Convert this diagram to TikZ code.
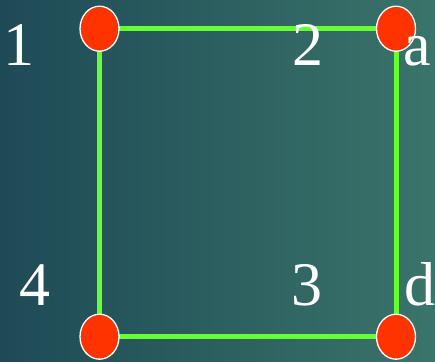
\documentclass[tikz,border=0pt]{standalone}
\usepackage{fontspec}
\setmainfont{Liberation Serif}
\usetikzlibrary{shapes.geometric}
\definecolor{bgleft}{RGB}{30,74,86}
\definecolor{bgright}{RGB}{58,116,106}
\definecolor{edgegreen}{RGB}{102,255,51}
\definecolor{vertred}{RGB}{255,51,0}
\begin{document}
\begin{tikzpicture}[x=1pt,y=-1pt,
  vert/.style={ellipse,draw=white,line width=1.3pt,fill=vertred,minimum width=39pt,minimum height=45pt,inner sep=0pt},
  edge/.style={draw=edgegreen,line width=5pt},
  lab/.style={text=white,font=\fontsize{62}{62}\selectfont,inner sep=0pt}]
\useasboundingbox (0,0) rectangle (435,361);
\shade[shading angle=70,left color=bgleft,right color=bgright] (0,0) rectangle (435,361);
\coordinate (c1) at (99.5,28.7);
\coordinate (c2) at (396,28.7);
\coordinate (c3) at (396,336.7);
\coordinate (c4) at (99.5,336.7);
\draw[edge] (c1) -- (c2) -- (c3) -- (c4) -- cycle;
\node[vert] (n1) at (c1) {};
\node[vert] (n2) at (c2) {};
\node[vert] (n3) at (c3) {};
\node[vert] (n4) at (c4) {};
\node[lab,anchor=base] (l1) at (19,65) {1};
\node[lab,anchor=base] (l2) at (307.5,65) {2};
\node[lab,anchor=base] (la) at (417,65) {a};
\node[lab,anchor=base] (l4) at (35,305) {4};
\node[lab,anchor=base] (l3) at (307,305) {3};
\node[lab,anchor=base] (ld) at (420,305) {d};
\end{tikzpicture}
\end{document}
